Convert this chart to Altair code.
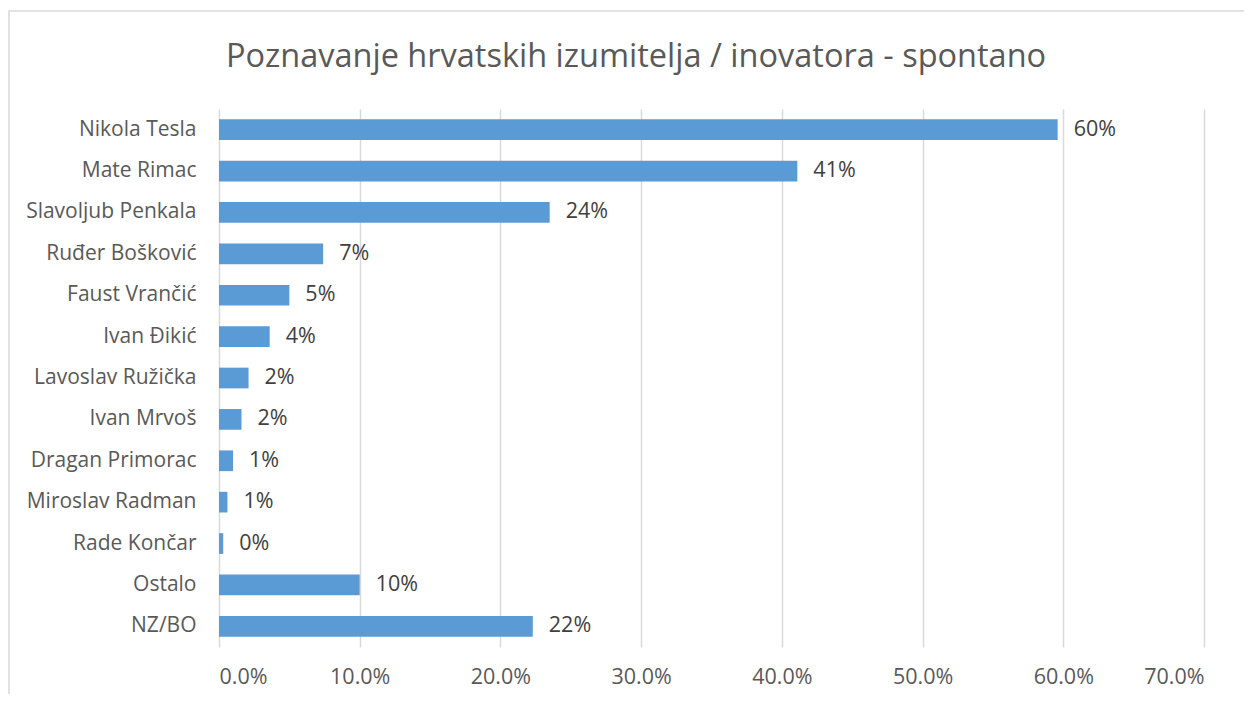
import altair as alt
import pandas as pd

names = ["Nikola Tesla", "Mate Rimac", "Slavoljub Penkala", "Ruđer Bošković", "Faust Vrančić",
         "Ivan Đikić", "Lavoslav Ružička", "Ivan Mrvoš", "Dragan Primorac", "Miroslav Radman",
         "Rade Končar", "Ostalo", "NZ/BO"]
values = [0.596, 0.411, 0.235, 0.074, 0.050, 0.036, 0.021, 0.016, 0.010, 0.006, 0.003, 0.100, 0.223]
labels = ["60%", "41%", "24%", "7%", "5%", "4%", "2%", "2%", "1%", "1%", "0%", "10%", "22%"]
x_ticks = [0.0, 0.1, 0.2, 0.3, 0.4, 0.5, 0.6, 0.7]
title_text = "Poznavanje hrvatskih izumitelja / inovatora - spontano"

FONT = "Open Sans"
df = pd.DataFrame({"name": names, "value": values, "label": labels})

W, H = 985, 538

y_enc = alt.Y("name:N", sort=names,
              scale=alt.Scale(paddingInner=0.5, paddingOuter=0.25),
              axis=alt.Axis(title=None, domain=False, ticks=False, labelPadding=23,
                            labelFontSize=21, labelColor="#595959", labelFont=FONT, grid=False))
x_enc = alt.X("value:Q", scale=alt.Scale(domain=[0, 0.7], nice=False),
              axis=alt.Axis(title=None, values=x_ticks, format=".1%", domain=False, ticks=False,
                            grid=True, gridColor="#d9d9d9", gridWidth=1.5,
                            labelPadding=19, labelFontSize=21.5, labelColor="#595959", labelFont=FONT))

base = alt.Chart(df)
bars = base.mark_bar(color="#5B9BD5").encode(x=x_enc, y=y_enc)
text = base.mark_text(align="left", baseline="middle", dx=16, fontSize=21.5, font=FONT,
                      color="#404040").encode(
    x=alt.X("value:Q"), y=alt.Y("name:N", sort=names), text="label:N")

frame_df = pd.DataFrame({"t": [title_text]})
border = alt.Chart(frame_df).mark_rect(fill=None, stroke="#d9d9d9", strokeWidth=1.5, clip=False).encode(
    x=alt.value(-210), x2=alt.value(1100), y=alt.value(-98), y2=alt.value(700))
title = alt.Chart(frame_df).mark_text(align="center", baseline="alphabetic", fontSize=32.5, font=FONT,
                                      color="#595959").encode(
    x=alt.value(417), y=alt.value(-42), text="t:N")

chart = alt.layer(border, bars, text, title).properties(
    width=W, height=H,
    autosize=alt.AutoSizeParams(type="none"),
    padding={"left": 211, "top": 101, "right": 40, "bottom": 47},
).configure_view(stroke=None)

chart.save("out.html", embed_options={"renderer": "svg", "actions": False})
